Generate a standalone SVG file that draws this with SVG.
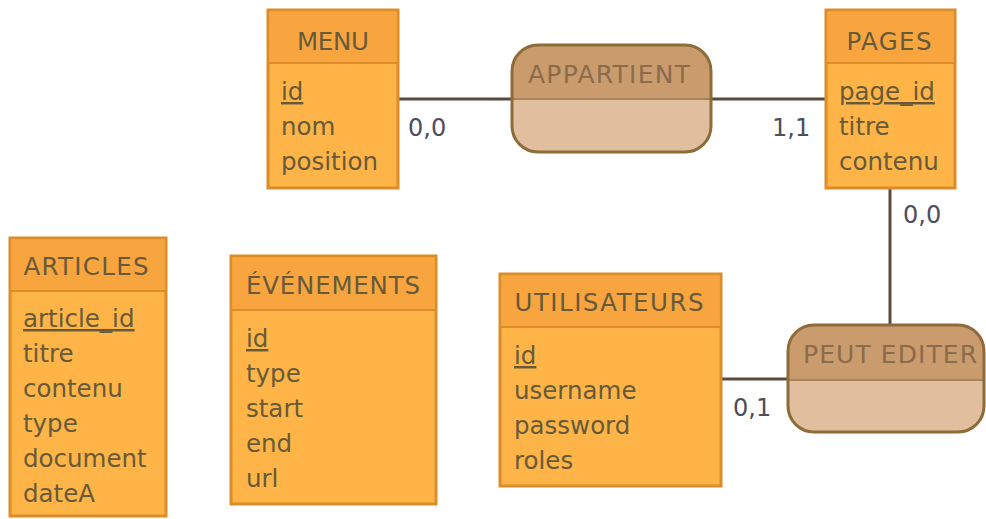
<svg xmlns="http://www.w3.org/2000/svg" width="986" height="519" viewBox="0 0 986 519">
<style>
.ent{fill:#feb447;stroke:#dc8c28;stroke-width:3}
.eh{fill:#f8a540}
.div{stroke:#dc8c28;stroke-width:2}
.t{font-family:"DejaVu Sans",Verdana,sans-serif;font-size:24.5px;fill:#675a3a}
.h{text-anchor:middle}
.pk{text-decoration:underline}
.rb{fill:#e1bf9e}
.rh{fill:#ca9b6d}
.ro{fill:none;stroke:#8e6c3a;stroke-width:3}
.rd{stroke:#a7855a;stroke-width:2}
.rt{font-family:"DejaVu Sans",Verdana,sans-serif;font-size:25px;fill:#8b6b4b;text-anchor:middle}
.c{font-family:"DejaVu Sans",Verdana,sans-serif;font-size:24px;fill:#4d4d5c}
.ln{stroke:#5a4a3c;stroke-width:3;fill:none}
</style>
<rect width="986" height="519" fill="#ffffff"/>
<g id="connectors">
<path class="ln" d="M398,99 H512"/>
<path class="ln" d="M711,99 H826"/>
<path class="ln" d="M890,188 V325"/>
<path class="ln" d="M721,379 H788"/>
<text class="c" x="408" y="136">0,0</text>
<text class="c" x="772" y="136">1,1</text>
<text class="c" x="903" y="223">0,0</text>
<text class="c" x="733" y="416">0,1</text>
</g>
<g id="menu">
<rect class="ent" x="268" y="10" width="130" height="178"/>
<rect class="eh" x="269.5" y="11.5" width="127" height="51.5"/>
<line class="div" x1="269" y1="63" x2="397" y2="63"/>
<text class="t h" x="333" y="50" textLength="72">MENU</text>
<text class="t pk" x="281" y="100">id</text>
<text class="t" x="281" y="135">nom</text>
<text class="t" x="281" y="170">position</text>
</g>
<g id="pages">
<rect class="ent" x="826" y="10" width="129" height="178"/>
<rect class="eh" x="827.5" y="11.5" width="126" height="51.5"/>
<line class="div" x1="827" y1="63" x2="954" y2="63"/>
<text class="t h" x="889" y="50" textLength="85">PAGES</text>
<text class="t pk" x="839" y="100">page_id</text>
<text class="t" x="839" y="135">titre</text>
<text class="t" x="839" y="170">contenu</text>
</g>
<g id="articles">
<rect class="ent" x="10" y="238" width="156" height="278"/>
<rect class="eh" x="11.5" y="239.5" width="153" height="51.5"/>
<line class="div" x1="11" y1="291" x2="165" y2="291"/>
<text class="t h" x="86" y="275" textLength="125">ARTICLES</text>
<text class="t pk" x="23" y="327">article_id</text>
<text class="t" x="23" y="362">titre</text>
<text class="t" x="23" y="397">contenu</text>
<text class="t" x="23" y="432">type</text>
<text class="t" x="23" y="467">document</text>
<text class="t" x="23" y="502">dateA</text>
</g>
<g id="evenements">
<rect class="ent" x="231" y="256" width="205" height="248"/>
<rect class="eh" x="232.5" y="257.5" width="202" height="51.5"/>
<line class="div" x1="232" y1="310" x2="435" y2="310"/>
<text class="t h" x="333" y="294" textLength="174">ÉVÉNEMENTS</text>
<text class="t pk" x="246" y="347">id</text>
<text class="t" x="246" y="382">type</text>
<text class="t" x="246" y="417">start</text>
<text class="t" x="246" y="452">end</text>
<text class="t" x="246" y="487">url</text>
</g>
<g id="utilisateurs">
<rect class="ent" x="500" y="274" width="221" height="212"/>
<rect class="eh" x="501.5" y="275.5" width="218" height="51.5"/>
<line class="div" x1="501" y1="327" x2="720" y2="327"/>
<text class="t h" x="609" y="311" textLength="189">UTILISATEURS</text>
<text class="t pk" x="514" y="364">id</text>
<text class="t" x="514" y="399">username</text>
<text class="t" x="514" y="434">password</text>
<text class="t" x="514" y="469">roles</text>
</g>
<g id="appartient">
<rect class="rb" x="512" y="45" width="199" height="107" rx="26"/>
<path class="rh" d="M512,99 V71 A26,26 0 0 1 538,45 H685 A26,26 0 0 1 711,71 V99 Z"/>
<line class="rd" x1="513" y1="99" x2="710" y2="99"/>
<rect class="ro" x="512" y="45" width="199" height="107" rx="26"/>
<text class="rt" x="609" y="83" textLength="162">APPARTIENT</text>
</g>
<g id="peut-editer">
<rect class="rb" x="788" y="325" width="196" height="107" rx="26"/>
<path class="rh" d="M788,380 V351 A26,26 0 0 1 814,325 H958 A26,26 0 0 1 984,351 V380 Z"/>
<line class="rd" x1="789" y1="380" x2="983" y2="380"/>
<rect class="ro" x="788" y="325" width="196" height="107" rx="26"/>
<text class="rt" x="890" y="363" textLength="174">PEUT EDITER</text>
</g>
</svg>
